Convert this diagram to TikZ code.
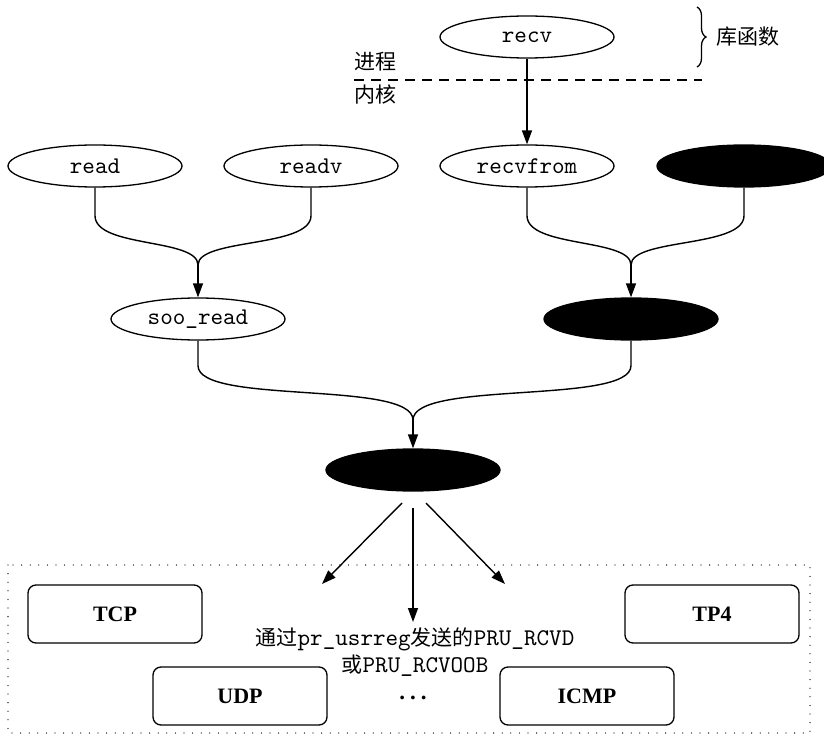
\documentclass[tikz,border=0pt]{standalone}
\usepackage{fontspec}
\setmainfont{Liberation Serif}
\setmonofont{lmmono10-regular.otf}[Scale=1.14]
\newfontfamily\cjk{Noto Sans CJK SC}
\usetikzlibrary{shapes.geometric,arrows.meta,decorations.pathreplacing}
\begin{document}
\begin{tikzpicture}[
    x=1pt, y=-1pt,
    func node/.style={ellipse, draw=black, line width=1.3pt, fill=white, inner sep=0pt,
        minimum width=174pt, minimum height=42pt, font=\fontsize{21}{24}\selectfont\ttfamily},
    dark node/.style={func node, fill=black},
    proto box/.style={draw=black, line width=1.3pt, rounded corners=8pt, inner sep=0pt,
        minimum width=174pt, minimum height=58pt, font=\fontsize{22}{26}\selectfont\bfseries},
    call line/.style={draw=black, line width=1.4pt},
    call arrow/.style={call line, -{Triangle[length=14pt,width=10pt]}},
    label text/.style={font=\fontsize{21}{27}\selectfont\cjk, inner sep=0pt}
]
\useasboundingbox (0,0) rectangle (824,735);

% Layer split
\draw[black, line width=1.3pt, dash pattern=on 10pt off 7pt] (354,80) -- (702,80);
\node[label text, anchor=west] (proc) at (354,62) {进程};
\node[label text, anchor=west] (kern) at (354,95) {内核};
\draw[black, line width=1.3pt, decorate, decoration={brace, amplitude=9pt}] (697,7) -- (697,67);
\node[label text, anchor=west] (lib) at (716,37) {库函数};

% Calls
\node[func node] (recv) at (527,37) {recv};
\node[func node] (read) at (95,166) {read};
\node[func node] (readv) at (311,166) {readv};
\node[func node] (recvfrom) at (527,166) {recvfrom};
\node[dark node] (recvmsg) at (744,166) {};
\node[func node] (sooread) at (198,319) {soo\_read};
\node[dark node] (recvit) at (631,319) {};
\node[dark node] (soreceive) at (413,470) {};

% Merging paths
\coordinate (mergeA) at (198,265);
\coordinate (mergeB) at (631,265);
\coordinate (mergeC) at (413,420);
\draw[call arrow] (recv) -- (recvfrom);
\draw[call line] (read.south) -- ++(0,28) .. controls (95,248) and (198,238) .. (mergeA);
\draw[call line] (readv.south) -- ++(0,28) .. controls (311,248) and (198,238) .. (mergeA);
\draw[call arrow] (mergeA) -- (sooread);
\draw[call line] (recvfrom.south) -- ++(0,28) .. controls (527,248) and (631,238) .. (mergeB);
\draw[call line] (recvmsg.south) -- ++(0,28) .. controls (744,248) and (631,238) .. (mergeB);
\draw[call arrow] (mergeB) -- (recvit);
\draw[call line] (sooread.south) -- ++(0,25) .. controls (198,405) and (413,380) .. (mergeC);
\draw[call line] (recvit.south) -- ++(0,25) .. controls (631,405) and (413,380) .. (mergeC);
\draw[call arrow] (mergeC) -- (soreceive);

% Protocol layer
\draw[black, line width=1.3pt, line cap=round, dash pattern=on 0pt off 8.6pt] (8,565) rectangle (810,733);
\node[proto box] (tcp) at (115,614) {TCP};
\node[proto box] (tp4) at (712,614) {TP4};
\node[proto box] (udp) at (240,696) {UDP};
\node[proto box] (icmp) at (587,696) {ICMP};
\node[font=\fontsize{23}{26}\selectfont\bfseries] (more) at (413,698) {.\hspace{5pt}.\hspace{5pt}.};
\node[label text, align=center] (req) at (415,652)
    {通过\texttt{pr\_usrreg}发送的\texttt{PRU\_RCVD}\\或\texttt{PRU\_RCVOOB}};

% Requests
\coordinate (outA) at (402,503);
\coordinate (outB) at (413,508);
\coordinate (outC) at (426,503);
\coordinate (inA) at (322,584);
\coordinate (inB) at (413,622);
\coordinate (inC) at (505,584);
\draw[call arrow] (outA) -- (inA);
\draw[call arrow] (outB) -- (inB);
\draw[call arrow] (outC) -- (inC);
\end{tikzpicture}
\end{document}
